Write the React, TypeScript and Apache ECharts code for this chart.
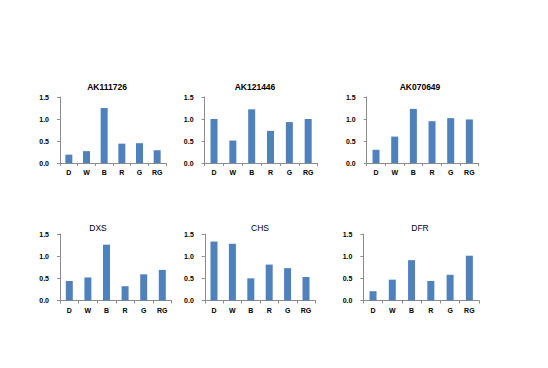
import React, { useEffect, useRef } from "react";
import * as echarts from "echarts";

const categories = ["D", "W", "B", "R", "G", "RG"];
const yTicks = [0, 0.5, 1.0, 1.5];

const titles = ["AK111726", "AK121446", "AK070649", "DXS", "CHS", "DFR"];
const ak111726 = [0.19, 0.27, 1.25, 0.44, 0.45, 0.29];
const ak121446 = [1.0, 0.51, 1.22, 0.73, 0.93, 1.0];
const ak070649 = [0.3, 0.6, 1.23, 0.95, 1.02, 0.99];
const dxs = [0.44, 0.52, 1.26, 0.32, 0.59, 0.69];
const chs = [1.33, 1.28, 0.5, 0.81, 0.73, 0.53];
const dfr = [0.21, 0.47, 0.91, 0.44, 0.58, 1.01];
const seriesValues = [ak111726, ak121446, ak070649, dxs, chs, dfr];

// layout of each panel (plot area) in px
const panels = [
  { left: 60, top: 97, width: 106, height: 66, titleX: 107, titleY: 87, bold: true },
  { left: 204.6, top: 97, width: 113, height: 66, titleX: 255, titleY: 87, bold: true },
  { left: 366.7, top: 97, width: 112, height: 66, titleX: 420, titleY: 87, bold: true },
  { left: 60, top: 234, width: 111.6, height: 66.5, titleX: 98, titleY: 228, bold: false },
  { left: 204.8, top: 234, width: 110.4, height: 66.5, titleX: 260, titleY: 228, bold: false },
  { left: 363.4, top: 234, width: 115.6, height: 66.5, titleX: 420, titleY: 228, bold: false },
];

const FONT = "Liberation Sans, Arial, sans-serif";
const AXIS_COLOR = "#8c8c8c";
const BAR_COLOR = "#4f81bd";

export default function App() {
  const ref = useRef<HTMLDivElement>(null);
  useEffect(() => {
    if (!ref.current) return;
    const chart = echarts.init(ref.current, undefined, { renderer: "svg" });
    const option: any = {
      animation: false,
      backgroundColor: "#ffffff",
      title: panels.map((p, i) => ({
        text: titles[i],
        left: p.titleX,
        top: p.titleY,
        textAlign: "center",
        textVerticalAlign: "middle",
        padding: 0,
        textStyle: {
          fontFamily: FONT,
          fontSize: 8.5,
          fontWeight: p.bold ? "bold" : "normal",
          color: "#000000",
        },
      })),
      grid: panels.map((p) => ({
        left: p.left,
        top: p.top,
        width: p.width,
        height: p.height,
        containLabel: false,
      })),
      xAxis: panels.map((_, i) => ({
        type: "category",
        gridIndex: i,
        data: categories,
        boundaryGap: true,
        axisLine: { show: true, lineStyle: { color: AXIS_COLOR, width: 1 } },
        axisTick: { show: true, length: 3, alignWithLabel: false, lineStyle: { color: AXIS_COLOR } },
        axisLabel: {
          fontFamily: FONT,
          fontSize: 7,
          fontWeight: "bold",
          color: "#000000",
          margin: 6,
          interval: 0,
        },
        splitLine: { show: false },
      })),
      yAxis: panels.map((_, i) => ({
        type: "value",
        gridIndex: i,
        min: yTicks[0],
        max: yTicks[yTicks.length - 1],
        interval: yTicks[1] - yTicks[0],
        axisLine: { show: true, lineStyle: { color: AXIS_COLOR, width: 1 } },
        axisTick: { show: true, length: 3, lineStyle: { color: AXIS_COLOR } },
        axisLabel: {
          fontFamily: FONT,
          fontSize: 7,
          fontWeight: "bold",
          color: "#000000",
          margin: 11,
          formatter: (v: number) => v.toFixed(1),
        },
        splitLine: { show: false },
      })),
      series: seriesValues.map((vals, i) => ({
        type: "bar",
        xAxisIndex: i,
        yAxisIndex: i,
        data: vals,
        barWidth: 7,
        itemStyle: { color: BAR_COLOR },
      })),
    };
    chart.setOption(option);
    return () => chart.dispose();
  }, []);
  return (
    <div
      ref={ref}
      style={{ position: "fixed", left: 0, top: 0, width: 548, height: 368, background: "#fff" }}
    />
  );
}
